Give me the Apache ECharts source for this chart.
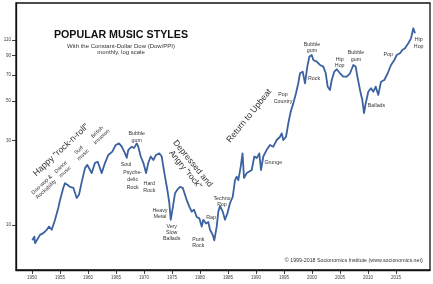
<!DOCTYPE html>
<html>
<head>
<meta charset="utf-8">
<script src="https://cdn.jsdelivr.net/npm/echarts@6/dist/echarts.min.js"></script>
<style>
html,body{margin:0;padding:0;background:#fff;}
#chart{width:433px;height:284px;}
</style>
</head>
<body>
<div id="chart"></div>
<script>
// ---- data ----
var years = [1950.05,1950.41,1950.54,1951.43,1952.02,1952.63,1953.04,1953.52,1954.11,1954.70,
1955.00,1955.59,1955.89,1956.38,1956.79,1957.38,1957.98,1958.39,1958.88,1959.46,
1959.88,1960.36,1960.66,1961.25,1961.73,1962.45,1963.04,1963.63,1964.34,1964.95,
1965.54,1966.02,1966.61,1966.91,1967.20,1967.80,1968.21,1968.70,1968.98,1969.41,
1969.88,1970.36,1970.77,1971.20,1971.66,1972.14,1972.73,1973.16,1973.45,1973.75,
1974.16,1974.52,1974.77,1975.13,1975.54,1975.95,1976.43,1976.91,1977.32,1977.63,
1978.09,1978.52,1978.93,1979.41,1979.88,1980.30,1980.59,1981.07,1981.48,1981.79,
1982.27,1982.55,1982.98,1983.27,1983.57,1984.05,1984.46,1984.88,1985.36,1985.84,
1986.25,1986.55,1986.84,1987.27,1987.59,1987.86,1988.34,1988.80,1989.23,1989.70,
1990.13,1990.59,1990.89,1991.30,1991.91,1992.50,1993.09,1993.70,1994.29,1994.59,
1994.88,1995.36,1995.77,1996.20,1996.66,1997.14,1997.55,1997.86,1998.34,1998.75,
1999.16,1999.52,1999.95,2000.23,2000.84,2001.43,2002.02,2002.45,2002.80,2003.21,
2003.52,2003.98,2004.41,2005.00,2005.59,2006.20,2006.79,2007.38,2007.80,2008.16,
2008.57,2008.98,2009.29,2009.59,2010.05,2010.54,2010.95,2011.38,2011.84,2012.32,
2012.91,2013.52,2014.11,2014.70,2015.13,2015.71,2016.13,2016.61,2017.20,2017.68,
2018.09,2018.39];
var dowPPI = [8.2,8.6,7.9,8.8,9.0,9.4,9.8,9.4,10.7,12.5,
13.8,16.2,17.2,16.8,16.4,16.2,14.2,14.8,17.5,20.9,
21.8,20.4,19.6,22.4,22.7,19.6,22.4,24.8,25.9,28.2,
28.8,27.6,25.3,23.9,26.5,27.6,27.1,28.8,27.6,24.3,
22.4,19.6,22.4,24.3,23.2,24.8,25.3,24.3,21.3,18.7,
15.8,13.3,10.7,12.5,15.1,15.8,16.4,16.2,14.8,13.8,
12.7,11.9,12.2,11.1,10.9,9.8,10.7,10.2,10.4,9.4,
8.8,8.2,9.8,11.9,12.8,11.9,10.7,11.6,13.3,14.4,
17.9,18.7,17.9,21.3,25.3,18.4,19.6,20.0,20.4,24.3,
23.8,25.3,20.4,24.3,26.5,28.2,27.6,30.1,31.4,32.8,
30.1,31.4,37.4,43.5,48.4,55.2,62.8,71.5,73.0,62.8,
77.9,88.6,90.6,84.9,83.1,79.6,77.9,71.5,60.1,57.6,
65.5,73.0,75.3,71.5,68.4,68.4,71.5,79.6,77.9,67.0,
57.6,50.6,42.6,48.4,56.3,58.9,56.3,60.1,54.0,64.1,
65.5,71.5,79.6,84.9,90.6,92.6,96.7,98.8,105.5,112.5,
128.1,120.1];
var xTicks = [1950,1955,1960,1965,1970,1975,1980,1985,1990,1995,2000,2005,2010,2015];
var yTicks = [10,30,50,70,90,110];

var FF = '"Liberation Sans", Arial, Helvetica, sans-serif';
var TXT = '#333';

var seriesData = years.map(function (y, i) { return [y, dowPPI[i]]; });

function lbl(text, x, y, opts) {
  opts = opts || {};
  return {
    type: 'text', x: x, y: y,
    rotation: (opts.rot || 0) * Math.PI / 180,
    silent: true, z: 100,
    style: {
      text: text,
      fill: opts.color || TXT,
      fontSize: opts.size || 5.3,
      fontFamily: FF,
      fontWeight: opts.weight || 'normal',
      align: opts.align || 'center', textAlign: opts.align || 'center',
      verticalAlign: 'middle', textVerticalAlign: 'middle',
      lineHeight: opts.lh || 6.4
    }
  };
}

var graphics = [
  lbl('POPULAR MUSIC STYLES', 121, 35, {size: 10.7, weight: 'bold', color: '#111'}),
  lbl('With the Constant-Dollar Dow (Dow/PPI)', 121, 46.7, {size: 6}),
  lbl('monthly, log scale', 121, 52.7, {size: 6}),
  lbl('Happy "rock-n-roll"', 61, 150, {size: 8.7, rot: 43}),
  lbl('Doo-wop &\nRockability', 44, 187, {rot: 43}),
  lbl('Dance\nmusic', 63, 169.5, {rot: 43}),
  lbl('Surf\nmusic', 81, 152.5, {rot: 43}),
  lbl('British\nInvasion', 99.5, 134.5, {rot: 43}),
  lbl('Bubble\ngum', 136.7, 136.7, {lh: 6.7}),
  lbl('Soul', 126, 164.3),
  lbl('Psyche-\ndelic\nRock', 132.7, 180, {lh: 7.2}),
  lbl('Hard\nRock', 149.3, 186.7, {lh: 6.7}),
  lbl('Depressed and\nAngry "rock"', 189, 166.6, {size: 8.5, rot: -51, lh: 9.5}),
  lbl('Heavy\nMetal', 160, 213.4, {lh: 6.7}),
  lbl('Very\nSlow\nBallads', 171.7, 232.7, {lh: 6.1}),
  lbl('Punk\nRock', 198.3, 242.4, {lh: 6.7}),
  lbl('Rap', 211, 217.3),
  lbl('Techno\nPop', 222, 201.3, {lh: 6.1}),
  lbl('Return to Upbeat', 249.2, 115.9, {size: 8.7, rot: 51}),
  lbl('Pop\nCountry', 283, 98.3, {lh: 6.7}),
  lbl('Grunge', 273.3, 162.3),
  lbl('Bubble\ngum', 312, 47.5, {lh: 6.9}),
  lbl('Rock', 314, 78.3),
  lbl('Hip\nHop', 339.7, 62.5, {lh: 6.5}),
  lbl('Bubble\ngum', 356, 56.3, {lh: 6.9}),
  lbl('Ballads', 376.5, 106),
  lbl('Pop', 388.3, 54.6),
  lbl('Hip\nHop', 418.7, 42.8, {lh: 6.7}),
  lbl('\u00a9 1999-2018 Socionomics Institute (www.socionomics.net)', 422.7, 260.7, {align: 'right'})
];

var chart = echarts.init(document.getElementById('chart'), null, {renderer: 'canvas'});
chart.setOption({
  animation: false,
  backgroundColor: '#fff',
  grid: {
    left: 16, right: 3, top: 3, bottom: 14,
    show: true, borderColor: '#111', borderWidth: 1.3, backgroundColor: 'transparent',
    containLabel: false, outerBoundsMode: 'none'
  },
  xAxis: {
    type: 'value', min: 1947.14, max: 2021.07,
    splitLine: {show: false},
    axisLine: {show: true, onZero: false, lineStyle: {color: '#111', width: 1.3}},
    axisTick: {show: true, inside: false, length: 4, customValues: xTicks, lineStyle: {color: '#111', width: 0.8}},
    axisLabel: {show: true, customValues: xTicks, margin: 5, fontSize: 4.6, color: '#444', fontFamily: FF,
      formatter: function (v) { return String(Math.round(v)); }}
  },
  yAxis: {
    type: 'log', logBase: 10, min: 5.58, max: 177.8,
    splitLine: {show: false},
    axisLine: {show: true, onZero: false, lineStyle: {color: '#111', width: 1.3}},
    axisTick: {show: true, inside: false, length: 4, customValues: yTicks, lineStyle: {color: '#111', width: 0.8}},
    axisLabel: {show: true, customValues: yTicks, margin: 5, fontSize: 4.6, color: '#444', fontFamily: FF,
      formatter: function (v) { return String(Math.round(v)); }}
  },
  series: [{
    type: 'line',
    data: seriesData,
    showSymbol: false,
    symbol: 'none',
    smooth: false,
    lineStyle: {color: '#3b61a0', width: 1.8, join: 'round'},
    z: 5
  }],
  graphic: graphics
});
</script>
</body>
</html>
